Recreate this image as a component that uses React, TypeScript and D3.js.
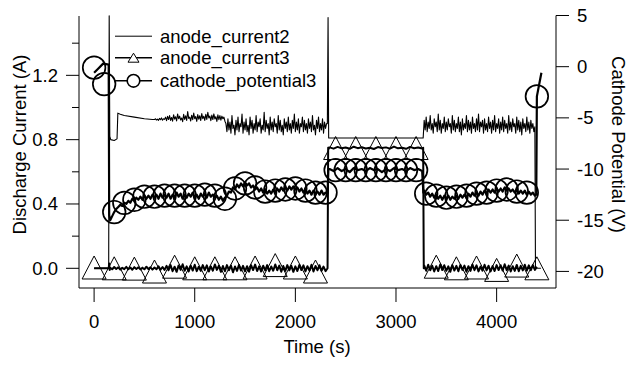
import React from "react";
import * as d3 from "d3";

// ---------- Axis ticks ----------
const timeTicks = [0, 1000, 2000, 3000, 4000];
const currentTicks = [0, 0.4, 0.8, 1.2];
const currentMinorTicks = [0.2, 0.6, 1.0, 1.4];
const potentialTicks = [5, 0, -5, -10, -15, -20];

// ---------- anode_current2 (A) ----------
const a2StartT = [0, 145, 150, 156, 165, 200, 228, 236, 260, 300, 400, 500, 580];
const a2StartV = [0, 0, 1.57, 0.82, 0.8, 0.795, 0.805, 0.965, 0.958, 0.95, 0.94, 0.93, 0.925];
// t = 600..1300 step 10
const a2NoiseA = [0.925, 0.93, 0.922, 0.928, 0.92, 0.932, 0.924, 0.935, 0.921, 0.93, 0.926,
  0.94, 0.918, 0.945, 0.925, 0.95, 0.92, 0.938, 0.915, 0.955, 0.928,
  0.942, 0.917, 0.96, 0.93, 0.946, 0.922, 0.935, 0.912, 0.958, 0.926,
  0.948, 0.92, 0.975, 0.932, 0.94, 0.916, 0.952, 0.924, 0.965, 0.93,
  0.944, 0.914, 0.956, 0.927, 0.949, 0.919, 0.962, 0.931, 0.945, 0.92,
  0.958, 0.926, 0.97, 0.935, 0.947, 0.918, 0.953, 0.925, 0.96, 0.929,
  0.943, 0.913, 0.955, 0.924, 0.95, 0.921, 0.946, 0.93, 0.94, 0.915];
// t = 1310..2310 step 10
const a2NoiseB = [0.9, 0.85, 0.93, 0.86, 0.91, 0.84, 0.95, 0.87, 0.89, 0.83, 0.92, 0.86, 0.94, 0.85, 0.9, 0.88, 0.96, 0.84, 0.91, 0.86,
  0.93, 0.85, 0.89, 0.83, 0.94, 0.87, 0.92, 0.84, 0.9, 0.86, 0.95, 0.85, 0.91, 0.88, 0.93, 0.84, 0.89, 0.86, 0.97, 0.85,
  0.92, 0.87, 0.9, 0.83, 0.94, 0.86, 0.91, 0.85, 0.93, 0.88, 0.9, 0.84, 0.95, 0.86, 0.92, 0.85, 0.89, 0.83, 0.93, 0.87,
  0.91, 0.85, 0.94, 0.86, 0.9, 0.84, 0.92, 0.87, 0.96, 0.85, 0.91, 0.86, 0.93, 0.84, 0.9, 0.88, 0.94, 0.85, 0.92, 0.86,
  0.9, 0.84, 0.93, 0.87, 0.91, 0.85, 0.95, 0.86, 0.89, 0.83, 0.92, 0.87, 0.94, 0.85, 0.9, 0.86, 0.93, 0.84, 0.91, 0.87, 0.9];
const a2MidT = [2318, 2325, 2331, 3270];
const a2MidV = [0.9, 1.56, 0.81, 0.81];
// t = 3280..4380 step 10
const a2NoiseC = [0.92, 0.86, 0.94, 0.85, 0.91, 0.87, 0.95, 0.86, 0.9, 0.84, 0.93, 0.88, 0.91, 0.85, 0.96, 0.86, 0.92, 0.84, 0.9, 0.87,
  0.94, 0.85, 0.91, 0.86, 0.93, 0.88, 0.9, 0.84, 0.95, 0.86, 0.92, 0.85, 0.9, 0.87, 0.94, 0.85, 0.91, 0.83, 0.93, 0.86,
  0.9, 0.87, 0.95, 0.85, 0.92, 0.86, 0.91, 0.84, 0.94, 0.87, 0.9, 0.85, 0.93, 0.86, 0.96, 0.85, 0.91, 0.88, 0.92, 0.84,
  0.93, 0.86, 0.9, 0.85, 0.94, 0.87, 0.91, 0.84, 0.92, 0.86, 0.95, 0.85, 0.9, 0.87, 0.93, 0.84, 0.91, 0.86, 0.94, 0.85,
  0.92, 0.87, 0.9, 0.84, 0.95, 0.86, 0.91, 0.85, 0.93, 0.88, 0.9, 0.84, 0.94, 0.86, 0.92, 0.85, 0.91, 0.83, 0.93, 0.87,
  0.9, 0.85, 0.94, 0.86, 0.91, 0.84, 0.92, 0.87, 0.9, 0.85, 0.88];
const a2EndT = [4386, 4440];
const a2EndV = [0, 0];

// ---------- anode_current3 (A) ----------
const a3StartT = [0, 145, 150, 155];
const a3StartV = [0, 0, 0.03, -0.01];
// t = 160..700 step 20
const a3NoiseA = [0.004, -0.006, 0.008, -0.004, 0.006, -0.008, 0.003, -0.005, 0.009, -0.006, 0.005, -0.009, 0.007, -0.004, 0.006, -0.007, 0.004, -0.006, 0.01, -0.005, 0.006, -0.008, 0.005, -0.006, 0.012, -0.009, 0.008, -0.01];
// t = 720..2300 step 20
const a3NoiseB = [0.015, -0.012, 0.02, -0.018, 0.01, -0.022, 0.018, -0.01, 0.025, -0.015, 0.012, -0.02, 0.016, -0.014, 0.022, -0.018, 0.01, -0.016, 0.02, -0.012,
  0.018, -0.02, 0.012, -0.015, 0.024, -0.01, 0.016, -0.022, 0.014, -0.018, 0.02, -0.012, 0.017, -0.025, 0.011, -0.016, 0.021, -0.014, 0.015, -0.019,
  0.013, -0.021, 0.019, -0.011, 0.023, -0.017, 0.012, -0.02, 0.016, -0.013, 0.02, -0.018, 0.011, -0.015, 0.024, -0.012, 0.017, -0.021, 0.014, -0.016,
  0.02, -0.013, 0.015, -0.022, 0.012, -0.017, 0.021, -0.011, 0.018, -0.019, 0.013, -0.015, 0.022, -0.02, 0.014, -0.012, 0.019, -0.016, 0.011, -0.018];
const a3OnT = [2320, 2326];
const a3OnV = [0, 0.75];
// t = 2340..3260 step 40
const a3OnNoise = [0.752, 0.744, 0.755, 0.746, 0.751, 0.743, 0.756, 0.747, 0.753, 0.745, 0.75, 0.742, 0.754, 0.748, 0.752, 0.744, 0.757, 0.746, 0.75, 0.743, 0.755, 0.747, 0.751, 0.745];
const a3OffT = [3270, 3276];
const a3OffV = [0.75, 0];
// t = 3280..4400 step 20
const a3NoiseC = [0.018, -0.015, 0.022, -0.012, 0.016, -0.02, 0.013, -0.017, 0.024, -0.011, 0.019, -0.016, 0.012, -0.022, 0.02, -0.014, 0.015, -0.018, 0.021, -0.01,
  0.017, -0.021, 0.013, -0.016, 0.023, -0.012, 0.018, -0.019, 0.011, -0.015, 0.022, -0.013, 0.016, -0.02, 0.014, -0.017, 0.02, -0.011, 0.019, -0.014,
  0.025, -0.012, 0.017, -0.02, 0.013, -0.016, 0.021, -0.018, 0.015, -0.013, 0.022, -0.015, 0.018, -0.012, 0.02, -0.01, 0.01];
const a3MarkerT = [0, 200, 400, 600, 800, 1000, 1200, 1400, 1600, 1800, 2000, 2200, 2400, 2600, 2800, 3000, 3200, 3400, 3600, 3800, 4000, 4200, 4400];
const a3MarkerV = [0.005, 0, -0.002, -0.02, 0.01, 0, 0, 0, 0.005, 0.02, 0.005, -0.02, 0.748, 0.748, 0.748, 0.748, 0.748, 0.01, 0, 0.005, -0.01, 0.017, 0];

// ---------- cathode_potential3 (V) ----------
const cStartT = [0, 40, 90, 145, 150, 160, 180];
const cStartV = [-0.6, -0.2, 0.3, 0.2, -14.5, -15.0, -14.6];
// t = 200..2300 step 20
const cNoiseA = [-14.2, -13.9, -13.7, -13.5, -13.6, -13.3, -13.4, -13.1, -13.3, -12.9, -13.1, -12.8, -13.0, -12.7, -13.0, -12.6, -12.9, -12.6, -12.9, -12.5,
  -12.8, -12.5, -12.9, -12.4, -12.8, -12.5, -12.8, -12.4, -12.9, -12.5, -12.8, -12.3, -12.7, -12.4, -12.9, -12.5, -12.8, -12.4, -12.7, -12.3,
  -12.8, -12.5, -12.9, -12.4, -12.7, -12.4, -12.8, -12.3, -12.7, -12.5, -12.8, -12.6, -13.0, -12.7, -13.1, -12.8, -12.6, -12.2, -12.3, -11.8,
  -12.0, -11.5, -11.8, -11.4, -11.7, -11.3, -11.6, -11.4, -11.8, -11.6, -12.0, -11.8, -12.2, -11.9, -12.3, -12.0, -12.4, -12.1, -12.4, -12.0,
  -12.3, -11.9, -12.2, -11.8, -12.1, -11.8, -12.1, -11.7, -12.0, -11.7, -12.0, -11.8, -12.2, -11.9, -12.3, -12.0, -12.4, -12.1, -12.5, -12.1,
  -12.4, -12.2, -12.5, -12.1, -12.5, -12.3];
const cOnT = [2320, 2328];
const cOnV = [-12.4, -10.0];
// t = 2340..3260 step 40
const cOnNoise = [-10.0, -10.2, -9.9, -10.2, -10.0, -10.3, -9.9, -10.1, -10.0, -10.2, -9.9, -10.1, -10.0, -10.3, -10.0, -10.2, -9.9, -10.1, -10.0, -10.2, -9.9, -10.1, -10.0, -10.2];
const cOffT = [3272];
const cOffV = [-12.3];
// t = 3280..4380 step 20
const cNoiseB = [-12.1, -12.5, -12.3, -12.7, -12.4, -12.8, -12.5, -12.9, -12.6, -13.0, -12.6, -12.9, -12.6, -13.0, -12.7, -12.9, -12.6, -12.9, -12.5, -12.8,
  -12.5, -12.8, -12.4, -12.7, -12.3, -12.6, -12.3, -12.6, -12.2, -12.5, -12.1, -12.4, -12.0, -12.3, -12.0, -12.3, -11.9, -12.2, -11.9, -12.2,
  -11.8, -12.1, -11.9, -12.2, -12.0, -12.3, -12.0, -12.4, -12.1, -12.4, -12.1, -12.5, -12.2, -12.5, -12.3, -12.6];
const cEndT = [4394, 4400, 4445];
const cEndV = [-12.5, -2.9, -0.6];
const cMarkerT = [0, 100, 200, 300, 400, 500, 600, 700, 800, 900, 1000, 1100, 1200, 1300, 1400, 1500, 1600, 1700, 1800, 1900, 2000, 2100, 2200, 2300,
  2400, 2500, 2600, 2700, 2800, 2900, 3000, 3100, 3200, 3300, 3400, 3500, 3600, 3700, 3800, 3900, 4000, 4100, 4200, 4300, 4400];
const cMarkerV = [-0.1, -1.7, -14.2, -13.3, -13.0, -12.7, -12.7, -12.6, -12.6, -12.6, -12.6, -12.5, -12.6, -12.9, -11.9, -11.4, -11.8, -12.2, -12.1, -12.0, -11.9, -12.1, -12.3, -12.3,
  -10.1, -10.1, -10.1, -10.1, -10.1, -10.1, -10.1, -10.1, -10.1, -12.4, -12.6, -12.8, -12.7, -12.6, -12.4, -12.3, -12.1, -12.0, -12.2, -12.3, -2.9];

const legendNames = ["anode_current2", "anode_current3", "cathode_potential3"];

type P = [number, number];
const pts = (t: number[], v: number[]): P[] => t.map((tt, i) => [tt, v[i]] as P);
const grid = (t0: number, step: number, v: number[]): P[] => v.map((vv, i) => [t0 + i * step, vv] as P);

const anode2: P[] = [
  ...pts(a2StartT, a2StartV),
  ...grid(600, 10, a2NoiseA),
  ...grid(1310, 10, a2NoiseB),
  ...pts(a2MidT, a2MidV),
  ...grid(3280, 10, a2NoiseC),
  ...pts(a2EndT, a2EndV),
];
const anode3: P[] = [
  ...pts(a3StartT, a3StartV),
  ...grid(160, 20, a3NoiseA),
  ...grid(720, 20, a3NoiseB),
  ...pts(a3OnT, a3OnV),
  ...grid(2340, 40, a3OnNoise),
  ...pts(a3OffT, a3OffV),
  ...grid(3280, 20, a3NoiseC),
];
const cathode: P[] = [
  ...pts(cStartT, cStartV),
  ...grid(200, 20, cNoiseA),
  ...pts(cOnT, cOnV),
  ...grid(2340, 40, cOnNoise),
  ...pts(cOffT, cOffV),
  ...grid(3280, 20, cNoiseB),
  ...pts(cEndT, cEndV),
];

const FONT = "'Liberation Sans', Arial, Helvetica, sans-serif";

export default function App() {
  const x = d3.scaleLinear().domain([-150, 4590]).range([79, 556]);
  const yL = d3.scaleLinear().domain([-0.1225, 1.569]).range([288, 16]);
  const yR = d3.scaleLinear().domain([-21.62, 5]).range([288, 15.5]);

  const lineL = d3.line<P>().x((d) => x(d[0])).y((d) => yL(d[1]));
  const lineR = d3.line<P>().x((d) => x(d[0])).y((d) => yR(d[1]));

  const tri = (cx: number, cy: number, hw: number, hh: number) =>
    `M${cx},${cy - hh}L${cx + hw},${cy + hh}L${cx - hw},${cy + hh}Z`;

  const fs = 18.5;
  const legendY = [42.7, 64.2, 87.3];

  return (
    <svg width={634} height={365} style={{ position: "absolute", left: 0, top: 0, background: "#fff" }} fontFamily={FONT}>
      <rect width={634} height={365} fill="#fff" />
      {/* data */}
      <g fill="none" stroke="#000" strokeLinejoin="round">
        <path d={lineR(cathode) || ""} strokeWidth={2.2} />
        <path d={lineL(anode3) || ""} strokeWidth={2} />
        <path d={lineL(anode2) || ""} strokeWidth={1.1} />
        {cMarkerT.map((t, i) => (
          <circle key={"c" + i} cx={x(t)} cy={yR(cMarkerV[i])} r={11.3} strokeWidth={1.7} />
        ))}
        {a3MarkerT.map((t, i) => (
          <path key={"t" + i} d={tri(x(t), yL(a3MarkerV[i]), 12, 11.5)} strokeWidth={1} />
        ))}
      </g>

      {/* axes */}
      <g stroke="#000" strokeWidth={1} fill="none">
        <line x1={79} x2={79} y1={16} y2={288} />
        <line x1={556} x2={556} y1={15.5} y2={288} />
        <line x1={79} x2={556} y1={288} y2={288} />
        {timeTicks.map((t) => (
          <line key={"bt" + t} x1={x(t)} x2={x(t)} y1={288} y2={302} />
        ))}
        {currentTicks.map((v) => (
          <line key={"lt" + v} x1={66} x2={79} y1={yL(v)} y2={yL(v)} />
        ))}
        {currentMinorTicks.map((v) => (
          <line key={"lm" + v} x1={72} x2={79} y1={yL(v)} y2={yL(v)} />
        ))}
        {potentialTicks.map((v) => (
          <line key={"rt" + v} x1={556} x2={569} y1={yR(v)} y2={yR(v)} />
        ))}
      </g>
      <g fontSize={fs} fill="#000">
        {timeTicks.map((t) => (
          <text key={"btl" + t} x={x(t)} y={328.3} textAnchor="middle">{String(t)}</text>
        ))}
        {currentTicks.map((v) => (
          <text key={"ltl" + v} x={58} y={yL(v)} dy="0.35em" textAnchor="end">{v.toFixed(1)}</text>
        ))}
        {potentialTicks.map((v) => (
          <text key={"rtl" + v} x={577} y={yR(v)} dy="0.35em" textAnchor="start">{String(v)}</text>
        ))}
        <text x={317} y={353} textAnchor="middle">Time (s)</text>
        <text transform="translate(25.5,144.5) rotate(-90)" textAnchor="middle">Discharge Current (A)</text>
        <text transform="translate(611.5,144.5) rotate(90)" textAnchor="middle">Cathode Potential (V)</text>
      </g>

      {/* legend */}
      <g>
        {legendNames.map((name, i) => {
          const ly = legendY[i] - 6.5;
          return (
            <g key={name}>
              <line x1={115} x2={152} y1={ly} y2={ly} stroke="#000" strokeWidth={i === 0 ? 1 : 1.5} />
              {i === 1 && <path d={tri(133.5, ly, 5.5, 4.5)} fill="#fff" stroke="#000" strokeWidth={1} />}
              {i === 2 && <circle cx={133.5} cy={ly} r={6.3} fill="#fff" stroke="#000" strokeWidth={1.6} />}
              <text x={160} y={legendY[i]} fontSize={fs} fill="#000">{name}</text>
            </g>
          );
        })}
      </g>
    </svg>
  );
}
